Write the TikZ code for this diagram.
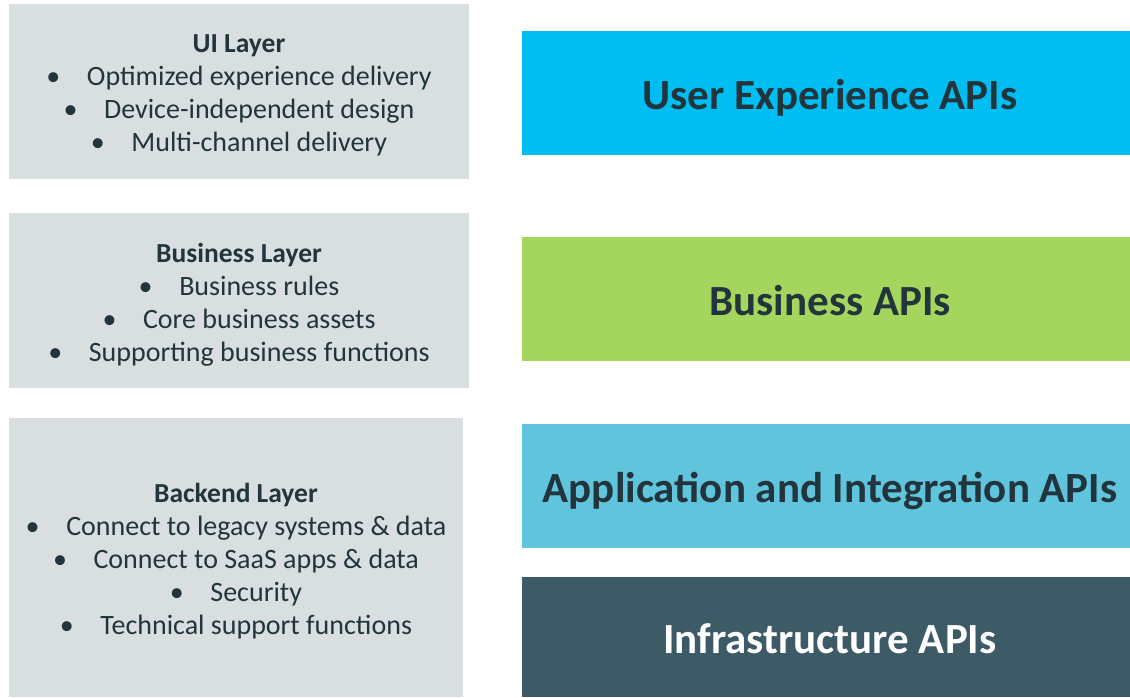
\documentclass[tikz,border=0pt]{standalone}
\usepackage{fontspec}
\setmainfont{Carlito}
\usepackage{tikz}
\definecolor{laygray}{HTML}{D9DFE0}
\definecolor{laytext}{HTML}{22343C}
\definecolor{uxblue}{HTML}{00BEF2}
\definecolor{bizgreen}{HTML}{A4D65E}
\definecolor{appblue}{HTML}{5FC4DC}
\definecolor{infragray}{HTML}{3D5B67}
\newcommand{\bitem}[1]{\textbullet\hspace{0.95em}#1}
\newcommand{\laytitle}[1]{{\fontsize{27.5}{33}\selectfont\bfseries #1}}

\begin{document}
\begin{tikzpicture}[x=1pt, y=-1pt,
		layer/.style={fill=laygray, inner sep=0pt, minimum width=460pt, minimum height=175pt},
		laytxt/.style={inner sep=0pt, text=laytext, align=center, font=\fontsize{28}{33}\selectfont},
		api/.style={inner sep=0pt, minimum width=608pt, minimum height=124pt, text height=33pt, text depth=0pt, text=laytext, font=\fontsize{43}{50}\selectfont\bfseries}]
		\useasboundingbox (0, 0) rectangle (1130, 697);
		\node[layer] (ui) at (239, 91.5) {};
		\node[layer] (biz) at (239, 300.5) {};
		\node[layer, minimum width=454pt, minimum height=279pt] (back) at (236, 557.5) {};
		\node[laytxt] (uitxt) at ([yshift=-4pt]ui.center) {\laytitle{UI Layer}\\ \bitem{Optimized experience delivery}\\ \bitem{Device-independent design}\\ \bitem{Multi-channel delivery}};
		\node[laytxt] (biztxt) at ([yshift=-4pt]biz.center) {\laytitle{Business Layer}\\ \bitem{Business rules}\\ \bitem{Core business assets}\\ \bitem{Supporting business functions}};
		\node[laytxt] (backtxt) at ([yshift=-4pt]back.center) {\laytitle{Backend Layer}\\ \bitem{Connect to legacy systems \& data}\\ \bitem{Connect to SaaS apps \& data}\\ \bitem{Security}\\ \bitem{Technical support functions}};
		\node[api, fill=uxblue] (uxapi) at (826, 93) {\hspace*{8pt}User Experience APIs};
		\node[api, fill=bizgreen] (bizapi) at (826, 299) {\hspace*{8pt}Business APIs};
		\node[api, fill=appblue] (appapi) at (826, 486) {\hspace*{8pt}Application and Integration APIs};
		\node[api, fill=infragray, text=white, minimum height=120pt] (infraapi) at (826, 637) {\hspace*{8pt}Infrastructure APIs};
	\end{tikzpicture}
\end{document}
